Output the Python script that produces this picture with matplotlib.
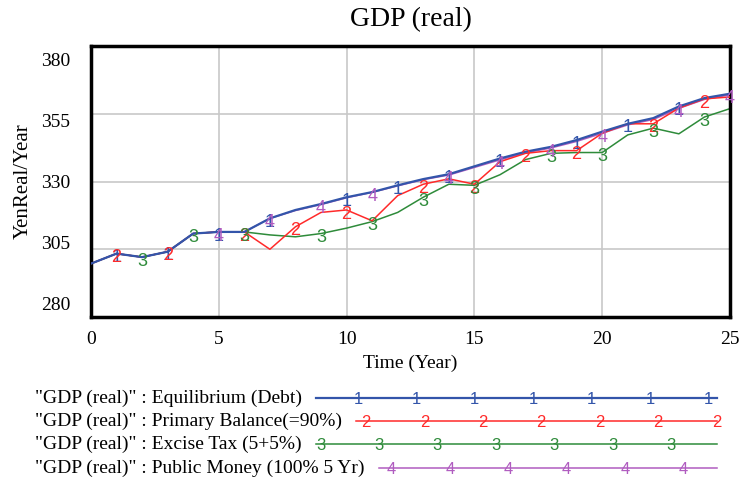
import numpy as np
import matplotlib
matplotlib.use("Agg")
import matplotlib.pyplot as plt
from matplotlib.lines import Line2D

# data
time = list(range(26))
equilibrium = [299.7, 303.4, 302.1, 304.1, 310.8, 311.4, 311.4, 316.4, 319.5, 321.7,
               324.2, 326.1, 328.6, 330.9, 332.7, 335.6, 338.5, 341.0, 342.8, 345.3,
               348.4, 351.3, 353.4, 357.7, 360.8, 362.4]
primary = [299.7, 303.4, 302.1, 304.1, 310.8, 311.4, 311.4, 305.0, 313.3, 318.6,
           319.5, 315.5, 324.8, 329.0, 331.0, 329.0, 337.3, 340.4, 341.4, 341.4,
           347.8, 351.3, 351.3, 357.1, 360.5, 361.2]
excise = [299.7, 303.4, 302.1, 304.1, 310.8, 311.4, 311.4, 310.3, 309.6, 310.8,
          312.8, 315.2, 318.6, 324.2, 329.0, 328.6, 332.5, 338.1, 340.4, 340.7,
          340.7, 347.2, 349.7, 347.6, 353.8, 356.9]
public = [299.7, 303.4, 302.1, 304.1, 310.8, 311.4, 311.4, 316.4, 319.3, 321.5,
          324.0, 326.0, 328.4, 330.7, 332.4, 335.2, 338.0, 340.6, 342.4, 344.8,
          347.8, 350.9, 352.9, 357.0, 360.3, 362.0]

names = ['"GDP (real)" : Equilibrium (Debt)',
         '"GDP (real)" : Primary Balance(=90%)',
         '"GDP (real)" : Excise Tax (5+5%)',
         '"GDP (real)" : Public Money (100% 5 Yr)']
series = [equilibrium, primary, excise, public]
colors = ["#3355aa", "#ff2a2a", "#2e8b3a", "#b05cc0"]
widths = [1.6, 1.1, 1.1, 1.1]
zords = [4, 3, 2, 2]
# data points where the series number is written
label_idx = [[1, 3, 5, 7, 10, 12, 14, 16, 19, 21, 23],
             [1, 3, 6, 8, 10, 13, 15, 17, 19, 22, 24],
             [2, 4, 6, 9, 11, 13, 15, 18, 20, 22, 24],
             [5, 7, 9, 11, 14, 16, 18, 20, 23, 25]]
yticks = [280, 305, 330, 355, 380]
xticks = [0, 5, 10, 15, 20, 25]

serif = "Liberation Serif"
sans = "Liberation Sans"

fig = plt.figure(figsize=(7.39, 4.86), dpi=100)
ax = fig.add_axes([0.1231, 0.3477, 0.8647, 0.5576])

for k, (vals, c) in enumerate(zip(series, colors)):
    ax.plot(time, vals, color=c, lw=widths[k], zorder=zords[k])
for k, (vals, c) in enumerate(zip(series, colors)):
    for i in label_idx[k]:
        ax.annotate(str(k + 1), (time[i], vals[i]), xytext=(0, -3),
                    textcoords="offset points", ha="center", va="center",
                    color=c, fontsize=13, family=sans, zorder=6,
                    annotation_clip=False)

ax.set_xlim(0, 25)
ax.set_ylim(280, 380)
ax.set_xticks(xticks)
ax.set_xticklabels([str(v) for v in xticks], family=serif, fontsize=14)
ax.tick_params(axis="x", length=0, pad=10)

# grid lines at the inner y values, labels spread slightly inward (Vensim style)
for v in yticks[1:-1]:
    ax.axhline(v, color="#c8c8c8", lw=1.2, zorder=1)
inset = 5
lab_pos = [280 + inset + (v - 280) * (100 - 2 * inset) / 100 for v in yticks]
ax.set_yticks(lab_pos)
ax.set_yticklabels([str(v) for v in yticks], family=serif, fontsize=14)
ax.tick_params(axis="y", length=0, pad=15)
ax.grid(True, axis="x", color="#c8c8c8", lw=1.2)
ax.set_axisbelow(True)
for s in ax.spines.values():
    s.set_linewidth(2.5)
    s.set_color("black")

ax.set_title("GDP (real)", family=serif, fontsize=20, pad=14)
ax.set_xlabel("Time (Year)", family=serif, fontsize=14, labelpad=5)
ax.set_ylabel("YenReal/Year", family=serif, fontsize=15, labelpad=6)

# legend drawn underneath, Vensim style
W, H = 739, 486
rows_y = [398, 421, 444, 468]
line_end = 717
mark_off = [42, 10, 5, 13]
spacing = 58.4
renderer = fig.canvas.get_renderer()
for k, name in enumerate(names):
    yf = 1 - rows_y[k] / H
    t = fig.text(35 / W, yf, name, family=serif, fontsize=14, va="center", ha="left")
    bb = t.get_window_extent(renderer)
    x0 = bb.x1 + 14
    fig.add_artist(Line2D([x0 / W, line_end / W], [yf, yf], color=colors[k],
                          lw=widths[k], transform=fig.transFigure))
    xm = x0 + mark_off[k]
    while xm <= line_end + 4:
        fig.text(xm / W, yf - 1 / H, str(k + 1), color=colors[k], family=sans,
                 fontsize=12, ha="center", va="center")
        xm += spacing

fig.savefig("out.png", dpi=100)
